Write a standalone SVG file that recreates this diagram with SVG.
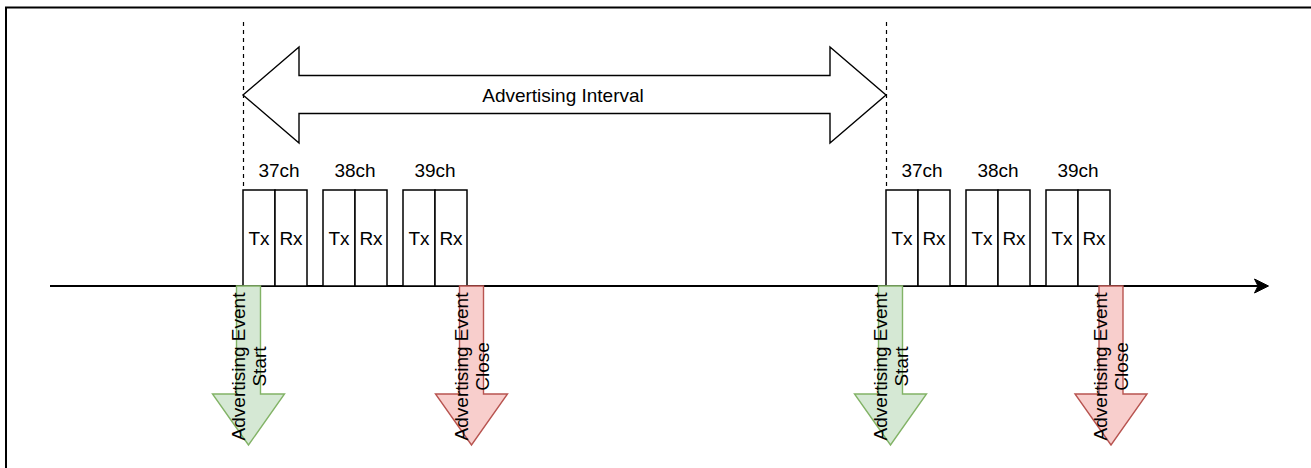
<svg xmlns="http://www.w3.org/2000/svg" width="1311" height="468" viewBox="0 0 1311 468">
<style>
text{font-family:"Liberation Sans",Arial,Helvetica,sans-serif;font-size:19px;fill:#000}
.box{fill:#fff;stroke:#000;stroke-width:1.5}
.dash{fill:none;stroke:#000;stroke-width:1.2;stroke-dasharray:4 4}
.green{fill:#d5e8d4;stroke:#82b366;stroke-width:1.4}
.red{fill:#f8cecc;stroke:#b85450;stroke-width:1.4}
.c{text-anchor:middle}
</style>
<rect width="1311" height="468" fill="#fff"/>
<path d="M6,468 V7.5 H1311" fill="none" stroke="#000" stroke-width="2"/>
<g id="connectors">
<line class="dash" x1="243.5" y1="22" x2="243.5" y2="190"/>
<line class="dash" x1="886.5" y1="22" x2="886.5" y2="190"/>
<path d="M50,286 H1258" stroke="#000" stroke-width="2" fill="none"/>
<path d="M1268.5,286 L1254.5,279 L1258,286 L1254.5,293 Z" fill="#000" stroke="#000" stroke-width="1"/>
</g>
<g id="interval">
<path d="M243,95 L299,47 L299,75.5 L830,75.5 L830,47 L886,95 L830,143 L830,113.5 L299,113.5 L299,143 Z" fill="#fff" stroke="#000" stroke-width="1.4"/>
<text class="c" x="563" y="101.5">Advertising Interval</text>
</g>
<g id="group1">
<text class="c" x="279" y="176.5">37ch</text>
<rect class="box" x="243" y="190" width="32" height="96"/>
<rect class="box" x="275" y="190" width="32" height="96"/>
<text class="c" x="259" y="245">Tx</text>
<text class="c" x="291" y="245">Rx</text>
<text class="c" x="355" y="176.5">38ch</text>
<rect class="box" x="323" y="190" width="32" height="96"/>
<rect class="box" x="355" y="190" width="32" height="96"/>
<text class="c" x="339" y="245">Tx</text>
<text class="c" x="371" y="245">Rx</text>
<text class="c" x="435" y="176.5">39ch</text>
<rect class="box" x="403" y="190" width="32" height="96"/>
<rect class="box" x="435" y="190" width="32" height="96"/>
<text class="c" x="419" y="245">Tx</text>
<text class="c" x="451" y="245">Rx</text>
</g>
<g id="group2">
<text class="c" x="922" y="176.5">37ch</text>
<rect class="box" x="886" y="190" width="32" height="96"/>
<rect class="box" x="918" y="190" width="32" height="96"/>
<text class="c" x="902" y="245">Tx</text>
<text class="c" x="934" y="245">Rx</text>
<text class="c" x="998" y="176.5">38ch</text>
<rect class="box" x="966" y="190" width="32" height="96"/>
<rect class="box" x="998" y="190" width="32" height="96"/>
<text class="c" x="982" y="245">Tx</text>
<text class="c" x="1014" y="245">Rx</text>
<text class="c" x="1078" y="176.5">39ch</text>
<rect class="box" x="1046" y="190" width="32" height="96"/>
<rect class="box" x="1078" y="190" width="32" height="96"/>
<text class="c" x="1062" y="245">Tx</text>
<text class="c" x="1094" y="245">Rx</text>
</g>
<g id="start1">
<path class="green" d="M236.5,286 H260.5 V394 H284.5 L248.5,445 L212.5,394 H236.5 Z"/>
<text class="c" transform="translate(248.5,366.5) rotate(-90)"><tspan x="0" y="-4">Advertising Event</tspan><tspan x="0" y="17">Start</tspan></text>
</g>
<g id="close1">
<path class="red" d="M459.5,286 H483.5 V394 H507.5 L471.5,445 L435.5,394 H459.5 Z"/>
<text class="c" transform="translate(471.5,366.5) rotate(-90)"><tspan x="0" y="-4">Advertising Event</tspan><tspan x="0" y="17">Close</tspan></text>
</g>
<g id="start2">
<path class="green" d="M878.5,286 H902.5 V394 H926.5 L890.5,445 L854.5,394 H878.5 Z"/>
<text class="c" transform="translate(890.5,366.5) rotate(-90)"><tspan x="0" y="-4">Advertising Event</tspan><tspan x="0" y="17">Start</tspan></text>
</g>
<g id="close2">
<path class="red" d="M1099,286 H1123 V394 H1147 L1111,445 L1075,394 H1099 Z"/>
<text class="c" transform="translate(1111,366.5) rotate(-90)"><tspan x="0" y="-4">Advertising Event</tspan><tspan x="0" y="17">Close</tspan></text>
</g>
</svg>
